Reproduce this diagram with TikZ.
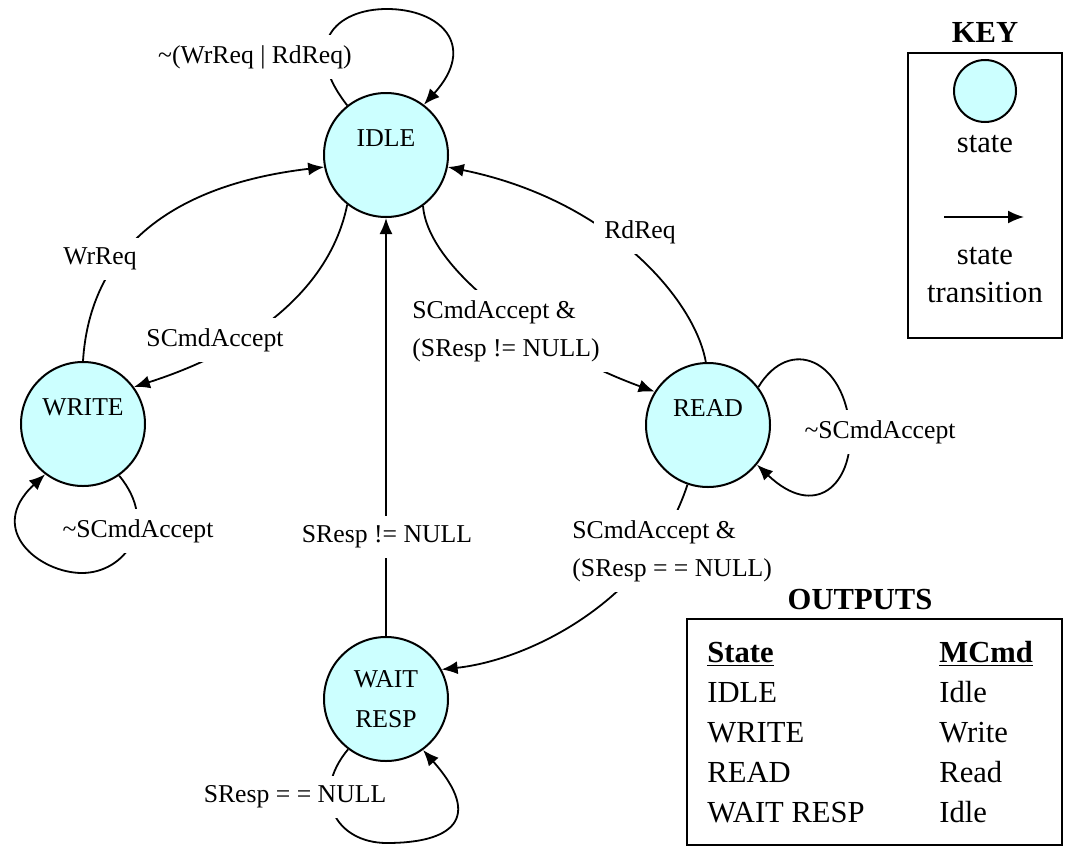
\documentclass[tikz,border=0pt]{standalone}
\usepackage{xcolor}
\usepackage{fontspec}
\setmainfont{Liberation Serif}
\usepackage{tikz}
\usetikzlibrary{positioning,arrows.meta}

\definecolor{statecyan}{RGB}{204,255,255}

\begin{document}
\begin{tikzpicture}[x=0.5pt, y=-0.5pt, node distance = 0.3em]
            \tikzstyle{state} = [circle, draw=black, line width=1pt, fill=statecyan, minimum size=62pt, inner sep=0pt, font=\fontsize{12.85pt}{20pt}\selectfont];
            \tikzstyle{raised} = [text depth=17pt];
            \tikzstyle{guard} = [fill=white, inner xsep=5pt, inner ysep=5pt, align=left, font=\fontsize{12.85pt}{19pt}\selectfont];
            \tikzstyle{trans} = [line width=0.9pt, -{Latex[length=8pt, width=6.5pt]}];
            \tikzstyle{keytext} = [align=center, font=\fontsize{15.3pt}{19pt}\selectfont];
            \tikzstyle{cell} = [inner sep=0pt, anchor=base west, font=\fontsize{15.3pt}{19pt}\selectfont];
            \useasboundingbox (0,0) rectangle (1081,846);

            \node [state, raised] (IDLE) at (386,155) {IDLE};
            \node [state, raised] (WRITE) at (83,424) {WRITE};
            \node [state, raised] (READ) at (708,425) {READ};
            \node [state, align=center] (WAIT) at (386,699) {WAIT\\RESP};

            \draw [trans] (IDLE.128) .. controls (300,45) and (335,9) .. (387,9)
                .. controls (440,9) and (478,45) .. (IDLE.53);
            \draw [trans] (WRITE.90) .. controls (90,250) and (170,185) .. (IDLE.191);
            \draw [trans] (IDLE.232) .. controls (330,290) and (250,350) .. (WRITE.36);
            \draw [trans] (READ.92) .. controls (695,300) and (610,200) .. (IDLE.349);
            \draw [trans] (IDLE.306) .. controls (428,270) and (540,350) .. (READ.148);
            \draw [trans] (READ.37) .. controls (790,335) and (845,360) .. (850,430)
                .. controls (853,485) and (815,520) .. (READ.321);
            \draw [trans] (READ.251) .. controls (650,600) and (530,660) .. (WAIT.28);
            \draw [trans] (WAIT) -- (IDLE);
            \draw [trans] (WRITE.305) .. controls (160,525) and (125,573) .. (82,573)
                .. controls (40,573) and (-15,530) .. (WRITE.233);
            \draw [trans] (WAIT.233) .. controls (310,795) and (335,843) .. (387,843)
                .. controls (450,843) and (485,820) .. (WAIT.306);

            % transition conditions
            \node [guard] (gIdle) at (255,57) {\textasciitilde(WrReq | RdReq)};
            \node [guard] (gWrReq) at (100,259) {WrReq};
            \node [guard] (gWrAcc) at (215,340) {SCmdAccept};
            \node [guard] (gRdReq) at (640,232) {RdReq};
            \node [guard, anchor=west] (gRdAcc) at (402,331) {SCmdAccept \&\\(SResp != NULL)};
            \node [guard] (gRdHold) at (880,432) {\textasciitilde SCmdAccept};
            \node [guard, anchor=west] (gRdWait) at (562,551) {SCmdAccept \&\\(SResp = = NULL)};
            \node [guard] (gResp) at (387,537) {SResp != NULL};
            \node [guard] (gWrHold) at (138,531) {\textasciitilde SCmdAccept};
            \node [guard] (gWait) at (295,797) {SResp = = NULL};

            % key
            \node [keytext, font=\fontsize{15.3pt}{19pt}\selectfont\bfseries] (keyT) at (985,32) {KEY};
            \draw [line width=0.9pt] (908,53) rectangle (1062,338);
            \node [state, minimum size=31pt] (keyS) at (985,91) {};
            \node [keytext] (keyL1) at (985,144) {state};
            \coordinate (keyA) at (944,217);
            \coordinate (keyB) at (1024,217);
            \draw [trans] (keyA) -- (keyB);
            \node [keytext] (keyL2) at (985,275) {state\\transition};

            % outputs
            \node [keytext, font=\fontsize{15.3pt}{19pt}\selectfont\bfseries] (outT) at (860,600) {OUTPUTS};
            \draw [line width=0.9pt] (687,619) rectangle (1062,845);
            \node [cell] (hState) at (707,662) {\underline{\textbf{State}}};
            \node [cell] (hMCmd) at (939,662) {\underline{\textbf{MCmd}}};
            \foreach \st/\cmd [count=\r] in {IDLE/Idle, WRITE/Write, READ/Read, WAIT RESP/Idle} {
                \node [cell] (st\r) at (707,{662+40*\r}) {\st};
                \node [cell] (cmd\r) at (939,{662+40*\r}) {\cmd};
            }
        \end{tikzpicture}
\end{document}
